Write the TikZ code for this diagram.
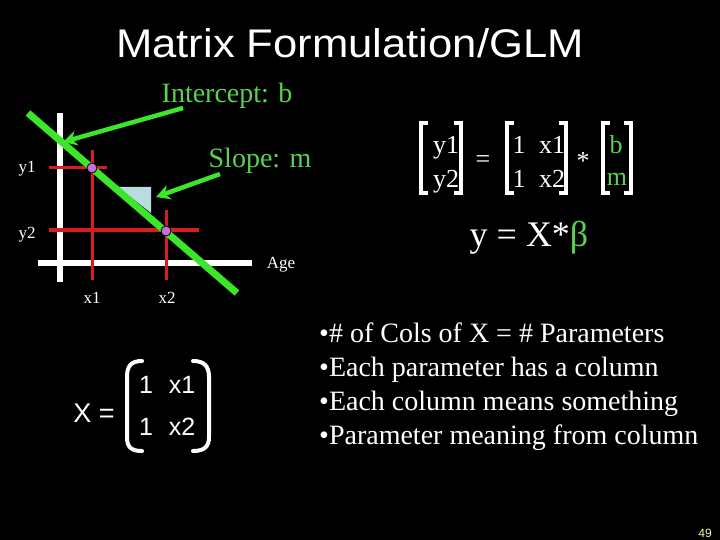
\documentclass[tikz,border=0pt]{standalone}
\usepackage{fontspec}
\setmainfont{Liberation Serif}
\setsansfont{Liberation Sans}
\newfontfamily\titlefont[FakeStretch=1.09]{Liberation Sans}
\usetikzlibrary{arrows.meta}

\definecolor{linegreen}{RGB}{60,230,40}
\definecolor{textgreen}{RGB}{90,210,80}
\definecolor{gridred}{RGB}{215,30,30}
\definecolor{dotviolet}{RGB}{200,110,225}
\definecolor{slopeblue}{RGB}{185,220,225}
\definecolor{pagenum}{RGB}{250,250,170}

\tikzset{
  lbl/.style={text=white, inner sep=0pt, anchor=base},
  axis/.style={white, line width=6pt},
  guide/.style={gridred, line width=3pt},
  fitline/.style={linegreen, line width=7pt},
  pointer/.style={linegreen, line width=4.5pt, -{Stealth[length=14pt,width=15pt]}},
  dot/.style={circle, fill=dotviolet, draw=black, line width=0.8pt, minimum size=10pt, inner sep=0pt},
  brk/.style={white, line width=3.5pt},
  paren/.style={white, line width=4pt, line cap=round}
}

\begin{document}
\begin{tikzpicture}[x=1pt,y=-1pt]
\fill[black] (0,0) rectangle (720,540);

\node[lbl, font=\titlefont\fontsize{40}{44}\selectfont] (title) at (350,58) {Matrix Formulation/GLM};

% A) Age plot with two points
\draw[axis] (60,113) -- (60,282);
\draw[axis] (38,263) -- (252,263);
\draw[guide] (49,168) -- (107,168);
\draw[guide] (49,230) -- (199,230);
\draw[guide] (92,150) -- (92,280);
\draw[guide] (166,210) -- (166,280);
\fill[slopeblue] (118,187) -- (151,187) -- (151,213) -- cycle;
\draw[fitline] (28,113) -- (237,293);
\node[dot] (p1) at (92,168) {};
\node[dot] (p2) at (166,231) {};

\node[lbl, font=\fontsize{17}{20}\selectfont] (ya) at (27,173) {y1};
\node[lbl, font=\fontsize{17}{20}\selectfont] (yb) at (27,238) {y2};
\node[lbl, font=\fontsize{17}{20}\selectfont] (age) at (281,268) {Age};
\node[lbl, font=\fontsize{17}{20}\selectfont] (xa) at (92,303) {x1};
\node[lbl, font=\fontsize{17}{20}\selectfont] (xb) at (167,303) {x2};

\node[lbl, text=textgreen, font=\fontsize{28}{32}\selectfont] (intercept) at (227,103) {Intercept: b};
\node[lbl, text=textgreen, font=\fontsize{28}{32}\selectfont] (slope) at (260,168) {Slope: m};
\coordinate (intTail) at (183,108);
\coordinate (intHead) at (63,142);
\coordinate (slpTail) at (220,174);
\coordinate (slpHead) at (156,197);
\draw[pointer] (intTail) -- (intHead);
\draw[pointer] (slpTail) -- (slpHead);

% B) matrix equation
\draw[brk] (428,123) -| (421,193) -- (428,193);
\draw[brk] (454,123) -| (461,193) -- (454,193);
\node[lbl, font=\fontsize{26}{30}\selectfont] (vy1) at (446,154) {y1};
\node[lbl, font=\fontsize{26}{30}\selectfont] (vy2) at (446,188) {y2};
\node[lbl, font=\fontsize{26}{30}\selectfont] (eq) at (483,168) {=};
\draw[brk] (514,123) -| (507,193) -- (514,193);
\draw[brk] (559,123) -| (566,193) -- (559,193);
\node[lbl, font=\fontsize{26}{30}\selectfont] (m11) at (519,154) {1};
\node[lbl, font=\fontsize{26}{30}\selectfont] (m12) at (552,154) {x1};
\node[lbl, font=\fontsize{26}{30}\selectfont] (m21) at (519,188) {1};
\node[lbl, font=\fontsize{26}{30}\selectfont] (m22) at (552,188) {x2};
\node[lbl, font=\fontsize{26}{30}\selectfont] (star) at (583,170) {*};
\draw[brk] (610,123) -| (603,193) -- (610,193);
\draw[brk] (624,123) -| (631,193) -- (624,193);
\node[lbl, text=textgreen, font=\fontsize{26}{30}\selectfont] (vb) at (616,154) {b};
\node[lbl, text=textgreen, font=\fontsize{26}{30}\selectfont] (vm) at (617,186) {m};

\node[lbl, font=\fontsize{36}{40}\selectfont] (short) at (529,247) {y = X*\textcolor{textgreen}{β}};

% C) design matrix X
\node[lbl, font=\sffamily\fontsize{27}{30}\selectfont] (xeq) at (94,422) {X =};
\draw[paren] (142,361) .. controls (131,361) and (127,366) .. (127,377) -- (127,437) .. controls (127,447) and (131,451) .. (142,451);
\draw[paren] (193,361) .. controls (204,361) and (209,366) .. (209,377) -- (209,437) .. controls (209,447) and (204,451) .. (193,451);
\node[lbl, font=\sffamily\fontsize{25}{30}\selectfont] (d11) at (146,393) {1};
\node[lbl, font=\sffamily\fontsize{25}{30}\selectfont] (d12) at (182,393) {x1};
\node[lbl, font=\sffamily\fontsize{25}{30}\selectfont] (d21) at (146,435) {1};
\node[lbl, font=\sffamily\fontsize{25}{30}\selectfont] (d22) at (182,435) {x2};

% D) notes
\node[lbl, anchor=base west, font=\fontsize{28}{34}\selectfont] (n1) at (319,342) {•\# of Cols of X = \# Parameters};
\node[lbl, anchor=base west, font=\fontsize{28}{34}\selectfont] (n2) at (319,376) {•Each parameter has a column};
\node[lbl, anchor=base west, font=\fontsize{28}{34}\selectfont] (n3) at (319,410) {•Each column means something};
\node[lbl, anchor=base west, font=\fontsize{28}{34}\selectfont] (n4) at (319,444) {•Parameter meaning from column};

\node[lbl, text=pagenum, font=\sffamily\fontsize{12}{14}\selectfont] (page) at (705,537) {49};
\end{tikzpicture}
\end{document}
